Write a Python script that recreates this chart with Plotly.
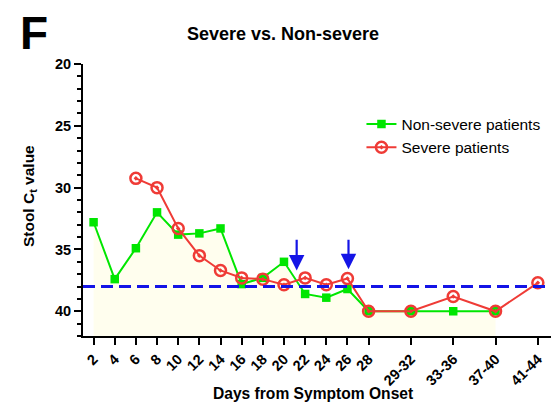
import plotly.graph_objects as go

# ---- data ----
tick_pos = [2, 4, 6, 8, 10, 12, 14, 16, 18, 20, 22, 24, 26, 28, 32, 36, 40, 44]
tick_labels = ["2", "4", "6", "8", "10", "12", "14", "16", "18", "20", "22", "24",
               "26", "28", "29-32", "33-36", "37-40", "41-44"]

nonsevere_x = [2, 4, 6, 8, 10, 12, 14, 16, 18, 20, 22, 24, 26, 28, 32, 36, 40]
nonsevere_y = [32.8, 37.4, 34.9, 32.0, 33.8, 33.7, 33.3, 37.8, 37.3, 36.0, 38.6, 38.9,
               38.2, 40.0, 40.0, 40.0, 40.0]

severe_x = [6, 8, 10, 12, 14, 16, 18, 20, 22, 24, 26, 28, 32, 36, 40, 44]
severe_y = [29.25, 30.0, 33.3, 35.5, 36.7, 37.3, 37.4, 37.85, 37.3, 37.85, 37.35,
            40.0, 40.0, 38.8, 40.0, 37.7]

cutoff = 38.0
arrow_x = [21.2, 26.1]
arrow_tip = [36.7, 36.6]
arrow_tail = [34.1, 34.1]

y_min, y_max = 20, 42
x_lo, x_hi = 1, 46

GREEN = "#00e600"
RED = "#ef3b36"
BLUE = "#1414e6"
FONT = "Arial, Liberation Sans, sans-serif"

fig = go.Figure()

# baseline for fill
fig.add_trace(go.Scatter(x=nonsevere_x, y=[y_max] * len(nonsevere_x), mode="lines",
                         line=dict(width=0, color="rgba(0,0,0,0)"),
                         showlegend=False, hoverinfo="skip"))
fig.add_trace(go.Scatter(x=nonsevere_x, y=nonsevere_y, mode="lines",
                         line=dict(width=0, color="rgba(0,0,0,0)"),
                         fill="tonexty", fillcolor="#fffeee",
                         showlegend=False, hoverinfo="skip"))

fig.add_trace(go.Scatter(x=nonsevere_x, y=nonsevere_y, mode="lines+markers",
                         name="Non-severe patients",
                         line=dict(color=GREEN, width=2),
                         marker=dict(symbol="square", size=8.5, color=GREEN)))
fig.add_trace(go.Scatter(x=severe_x, y=severe_y, mode="lines+markers",
                         name="Severe patients",
                         line=dict(color=RED, width=2),
                         marker=dict(symbol="circle-open-dot", size=11, color=RED,
                                     line=dict(width=2.5, color=RED))))

# cutoff dashed line
fig.add_shape(type="line", xref="paper", x0=0, x1=1, yref="y", y0=cutoff, y1=cutoff,
              line=dict(color=BLUE, width=3, dash="12px,6px"))

annotations = []
for ax_, tip, tail in zip(arrow_x, arrow_tip, arrow_tail):
    annotations.append(dict(x=ax_, y=tip, ax=ax_, ay=tail, xref="x", yref="y",
                            axref="x", ayref="y", showarrow=True, text="",
                            arrowhead=2, arrowsize=1.4, arrowwidth=2.2,
                            arrowcolor=BLUE, standoff=0))

annotations.append(dict(text="<b>F</b>", xref="paper", yref="paper", x=-0.137, y=1.115,
                        xanchor="left", yanchor="middle", showarrow=False,
                        font=dict(family=FONT, size=46, color="black")))
annotations.append(dict(text="<b>Severe vs. Non-severe</b>", xref="paper", yref="paper",
                        x=(283 - 83) / 476, y=1.112, xanchor="center", yanchor="middle",
                        showarrow=False, font=dict(family=FONT, size=18, color="black")))
annotations.append(dict(text="<b>Days from Symptom Onset</b>", xref="paper", yref="paper",
                        x=(313 - 83) / 476, y=-0.213, xanchor="center", yanchor="middle",
                        showarrow=False, font=dict(family=FONT, size=15.6, color="black")))
annotations.append(dict(text="<b>Stool C<sub>t</sub> value</b>", xref="paper", yref="paper",
                        x=-0.111, y=0.515, xanchor="center", yanchor="middle", textangle=-90,
                        showarrow=False, font=dict(family=FONT, size=15.5, color="black")))

# page body has an 8px margin, so the figure is drawn 8px smaller and offset
fig.update_layout(
    width=551, height=398,
    margin=dict(l=75, r=0, t=56, b=70, autoexpand=False),
    paper_bgcolor="white", plot_bgcolor="white",
    font=dict(family=FONT, color="black"),
    legend=dict(x=0.585, y=0.84, xanchor="left", yanchor="top", traceorder="normal",
                font=dict(family=FONT, size=15.5, color="black"),
                bgcolor="rgba(0,0,0,0)", tracegroupgap=0, itemwidth=30),
    annotations=annotations,
    showlegend=True,
)

fig.update_xaxes(range=[x_lo, x_hi], tickmode="array", tickvals=tick_pos, ticktext=tick_labels,
                 tickangle=-45, showline=True, linewidth=2, linecolor="black",
                 ticks="outside", ticklen=7, tickwidth=2, tickcolor="black",
                 showgrid=False, zeroline=False, automargin=False,
                 tickfont=dict(family=FONT, size=14.5, color="black", weight="bold"))

fig.update_yaxes(range=[y_max, y_min], tickmode="linear", tick0=20, dtick=5,
                 showline=True, linewidth=2, linecolor="black",
                 ticks="outside", ticklen=7, tickwidth=2, tickcolor="black",
                 minor=dict(dtick=1, tick0=20, ticks="outside", ticklen=4, tickwidth=1.5,
                            tickcolor="black", showgrid=False),
                 showgrid=False, zeroline=False, automargin=False,
                 tickfont=dict(family=FONT, size=14.5, color="black", weight="bold"))

fig.write_html("out.html")
